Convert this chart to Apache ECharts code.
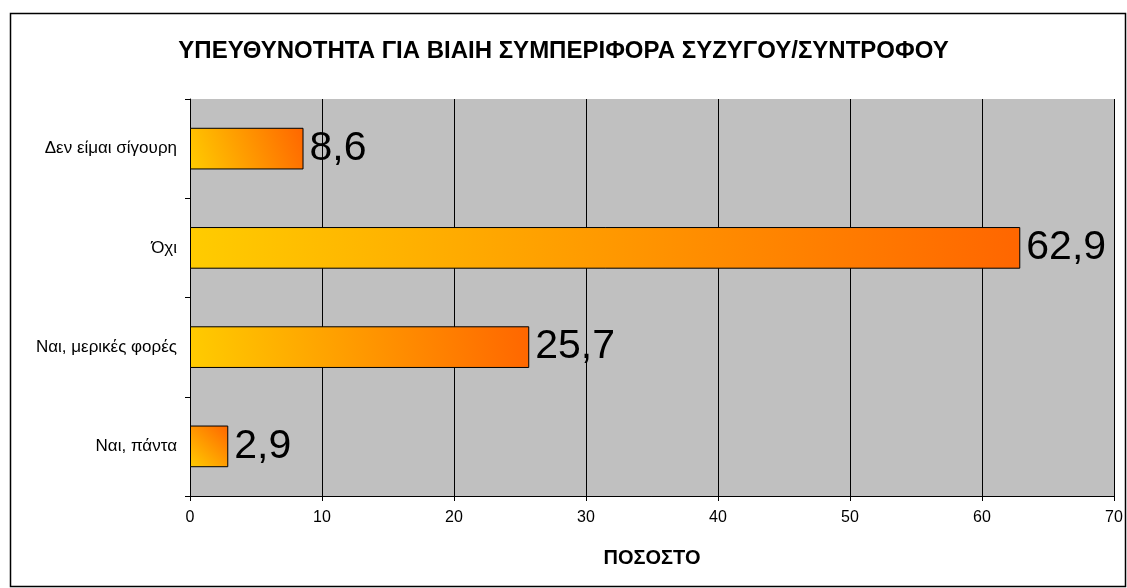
<!DOCTYPE html>
<html>
<head>
<meta charset="utf-8">
<script src="https://cdn.jsdelivr.net/npm/echarts@6/dist/echarts.min.js"></script>
<style>
  html, body { margin: 0; padding: 0; background: #fff; }
  #chart { width: 1127px; height: 588px; }
</style>
</head>
<body>
<div id="chart"></div>
<script>
// categories bottom to top, as the axis draws them
const categories = ['Ναι, πάντα', 'Ναι, μερικές φορές', 'Όχι', 'Δεν είμαι σίγουρη'];
const values = [2.9, 25.7, 62.9, 8.6];
const titleText = 'ΥΠΕΥΘΥΝΟΤΗΤΑ ΓΙΑ ΒΙΑΙΗ ΣΥΜΠΕΡΙΦΟΡΑ ΣΥΖΥΓΟΥ/ΣΥΝΤΡΟΦΟΥ';
const axisName = 'ΠΟΣΟΣΤΟ';

const font = '"Liberation Sans", Arial, sans-serif';

const chart = echarts.init(document.getElementById('chart'));

chart.setOption({
  animation: false,
  textStyle: { fontFamily: font },
  title: {
    text: titleText,
    left: 'center',
    top: 34,
    textStyle: { fontSize: 24, fontWeight: 'bold', color: '#000', fontFamily: font }
  },
  graphic: [{
    type: 'rect',
    shape: { x: 10.5, y: 13.5, width: 1115, height: 573 },
    style: { fill: 'none', stroke: '#000', lineWidth: 1.5 },
    silent: true
  }],
  grid: {
    left: 190,
    right: 13,
    top: 99,
    bottom: 92,
    show: true,
    backgroundColor: '#C0C0C0',
    borderWidth: 0
  },
  xAxis: {
    type: 'value',
    min: 0,
    max: 70,
    interval: 10,
    name: axisName,
    nameLocation: 'middle',
    nameGap: 52,
    nameTextStyle: { fontSize: 20, fontWeight: 'bold', color: '#000' },
    axisLine: { show: true, lineStyle: { color: '#000', width: 1 } },
    axisTick: { show: true, length: 5, lineStyle: { color: '#000' } },
    axisLabel: { fontSize: 16, color: '#000', margin: 14 },
    splitLine: { show: true, lineStyle: { color: '#000', width: 1 } }
  },
  yAxis: {
    type: 'category',
    data: categories,
    boundaryGap: true,
    axisLine: { show: true, lineStyle: { color: '#000', width: 1 } },
    axisTick: { show: true, length: 5, inside: false, lineStyle: { color: '#000' } },
    axisLabel: { fontSize: 17, color: '#000', margin: 13 },
    splitLine: { show: false }
  },
  series: [{
    type: 'bar',
    data: values,
    barWidth: '42%',
    itemStyle: {
      borderColor: '#000',
      borderWidth: 1,
      color: new echarts.graphic.LinearGradient(0, 1, 1, 0, [
        { offset: 0, color: '#FFCC00' },
        { offset: 1, color: '#FF6600' }
      ])
    },
    label: {
      show: true,
      position: 'right',
      distance: 6,
      fontSize: 41,
      color: '#000',
      fontFamily: font,
      formatter: p => String(p.value).replace('.', ',')
    }
  }]
});
</script>
</body>
</html>
